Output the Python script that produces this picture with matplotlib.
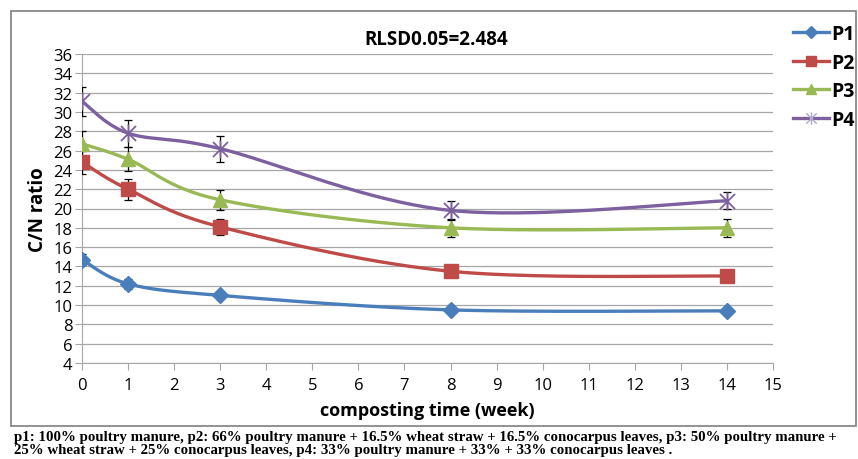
import numpy as np
import matplotlib.pyplot as plt
from matplotlib.path import Path
from matplotlib.patches import Rectangle
from matplotlib.lines import Line2D

# data
weeks = [0, 1, 3, 8, 14]
p1 = [14.7, 12.2, 11.0, 9.5, 9.4]
p2 = [24.8, 22.0, 18.1, 13.5, 13.0]
p3 = [26.7, 25.1, 20.9, 18.0, 18.0]
p4 = [31.1, 27.8, 26.2, 19.8, 20.8]
p1_err = [0.6, 0.5, 0.4, 0.3, 0.3]
p2_err = [1.2, 1.1, 0.8, 0.4, 0.4]
p3_err = [1.3, 1.25, 1.05, 0.9, 0.9]
p4_err = [1.5, 1.4, 1.35, 1.0, 0.9]
series_names = ['P1', 'P2', 'P3', 'P4']
title_text = 'RLSD0.05=2.484'
caption = ('p1: 100% poultry manure, p2: 66% poultry manure + 16.5% wheat straw + 16.5% conocarpus leaves, p3: 50% poultry manure +\n'
           '25% wheat straw + 25% conocarpus leaves, p4: 33% poultry manure + 33% + 33% conocarpus leaves .')

colors = ['#4a7ebb', '#be4b48', '#98b954', '#7d60a0']

# excel風のスターマーカー（×に縦線）
star = Path([(-1, -1), (1, 1), (-1, 1), (1, -1), (0, -1.2), (0, 1.2)],
            [Path.MOVETO, Path.LINETO, Path.MOVETO, Path.LINETO, Path.MOVETO, Path.LINETO])
markers = ['D', 's', '^', star]
msizes = [8, 10, 10, 13]


def smooth(x, y, sx=46.0, sy=9.65, n=40):
    """Excel風のスムージング（Catmull-Rom）"""
    pts = np.column_stack([np.array(x, float) * sx, np.array(y, float) * sy])
    ext = np.vstack([pts[0], pts, pts[-1]])
    out = []
    for i in range(len(pts) - 1):
        p0, p1_, p2_, p3_ = ext[i], ext[i + 1], ext[i + 2], ext[i + 3]
        c1 = p1_ + (p2_ - p0) / 6
        c2 = p2_ - (p3_ - p1_) / 6
        t = np.linspace(0, 1, n)[:, None]
        seg = ((1 - t) ** 3) * p1_ + 3 * ((1 - t) ** 2) * t * c1 + 3 * (1 - t) * t ** 2 * c2 + t ** 3 * p2_
        out.append(seg)
    out = np.vstack(out)
    return out[:, 0] / sx, out[:, 1] / sy


plt.rcParams['font.family'] = ['Open Sans', 'DejaVu Sans']

fig = plt.figure(figsize=(8.58, 4.60), dpi=100)
ax = fig.add_axes([82 / 858, 1 - 364 / 460, 691 / 858, 309 / 460])

handles = []
for vals, errs, c, m, ms, name in zip([p1, p2, p3, p4], [p1_err, p2_err, p3_err, p4_err],
                                      colors, markers, msizes, series_names):
    sx, sy = smooth(weeks, vals)
    ax.plot(sx, sy, color=c, lw=2.4, zorder=3)
    ax.errorbar(weeks, vals, yerr=errs, fmt='none', ecolor='black', elinewidth=0.9,
                capsize=3, capthick=0.9, zorder=4)
    if m is star:
        ax.plot(weeks, vals, ls='none', marker=m, ms=ms, mec=c, mew=1.3, mfc='none', zorder=5)
        h = Line2D([], [], color=c, lw=2.4, marker=m, ms=9, mec='#b0a8c8', mew=1.0, mfc='none')
    else:
        ax.plot(weeks, vals, ls='none', marker=m, ms=ms, color=c, mec=c, zorder=5)
        h = Line2D([], [], color=c, lw=2.4, marker=m, ms=ms * 0.75, mec=c)
    handles.append(h)

ax.set_xlim(0, 15)
ax.set_ylim(4, 36)
ax.set_xticks(range(0, 16))
ax.set_yticks(range(4, 37, 2))
ax.yaxis.grid(True, color='#a6a6a6', lw=0.9)
ax.set_axisbelow(True)
for s in ['top', 'right']:
    ax.spines[s].set_visible(False)
ax.spines['left'].set_color('#a6a6a6')
ax.spines['bottom'].set_color('#a6a6a6')
ax.tick_params(axis='x', direction='out', length=5, color='#a6a6a6', labelsize=12, pad=5)
ax.tick_params(axis='y', direction='out', length=5, color='#a6a6a6', labelsize=12, pad=2)
ax.set_ylabel('C/N ratio', fontsize=13.5, fontweight='bold', labelpad=4)
ax.set_xlabel('composting time (week)', fontsize=13, fontweight='bold', labelpad=6)

fig.text(436 / 858, 1 - 40 / 460, title_text, ha='center', va='center', fontsize=13.5, fontweight='bold')

fig.legend(handles=handles, labels=series_names, loc='upper left', bbox_to_anchor=(785 / 858, 1 - 17 / 460),
           frameon=False, prop={'weight': 'bold', 'size': 14}, handlelength=1.85, handletextpad=0.15,
           labelspacing=0.45, borderaxespad=0)

# 外枠
fig.patches.append(Rectangle((11 / 858, 1 - 427 / 460), 845 / 858, 415 / 460, transform=fig.transFigure,
                             fill=False, ec='#7f7f7f', lw=1.2))

fig.text(14 / 858, 1 - 444 / 460, caption, ha='left', va='center', fontsize=10.7, fontweight='bold',
         family='Liberation Serif', linespacing=1.05)

fig.savefig('out.png', dpi=100)
